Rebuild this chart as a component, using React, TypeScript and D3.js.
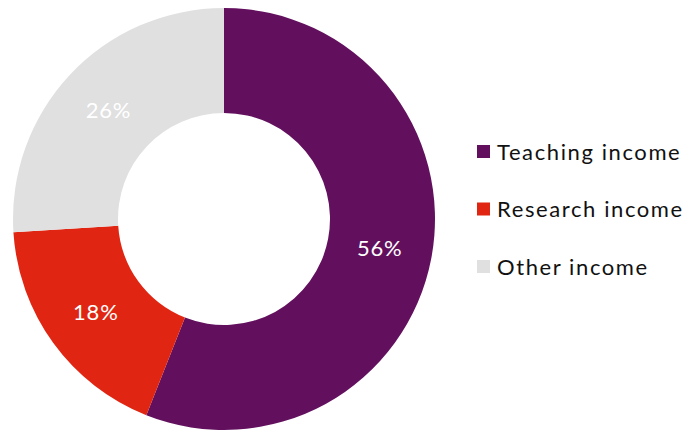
import * as d3 from "d3"

const categories = ["Teaching income", "Research income", "Other income"]
const shares = [56, 18, 26]
const colors = ["#62105E", "#E02612", "#E0E0E0"]

export default function App() {
  const width = 700
  const height = 432
  const cx = 224
  const cy = 219
  const outer = 211
  const inner = 106

  const pie = d3.pie<number>().sort(null).value((d) => d)
  const arcs = pie(shares)
  const arc = d3.arc<d3.PieArcDatum<number>>().innerRadius(inner).outerRadius(outer)

  const legendY = d3.scalePoint<string>().domain(categories).range([152, 267])

  return (
    <svg
      width={width}
      height={height}
      style={{ position: "absolute", left: 0, top: 0, fontFamily: "Lato, 'Open Sans', sans-serif" }}
    >
      <rect width={width} height={height} fill="#fff" />
      <g transform={`translate(${cx},${cy})`}>
        {arcs.map((a, i) => (
          <path key={i} d={arc(a) || ""} fill={colors[i]} />
        ))}
        {arcs.map((a, i) => {
          const [x, y] = arc.centroid(a)
          return (
            <text
              key={"l" + i}
              x={x}
              y={y}
              dy="0.35em"
              textAnchor="middle"
              fill="#fff"
              fontSize={22}
              letterSpacing={0.8}
            >
              {shares[i]}%
            </text>
          )
        })}
      </g>
      {categories.map((c, i) => (
        <g key={c} transform={`translate(477,${legendY(c)})`}>
          <rect x={0} y={-7} width={13} height={13} fill={colors[i]} />
          <text x={20} y={0} dy="0.35em" fontSize={22} letterSpacing={1.6} fill="#111">
            {c}
          </text>
        </g>
      ))}
    </svg>
  )
}
